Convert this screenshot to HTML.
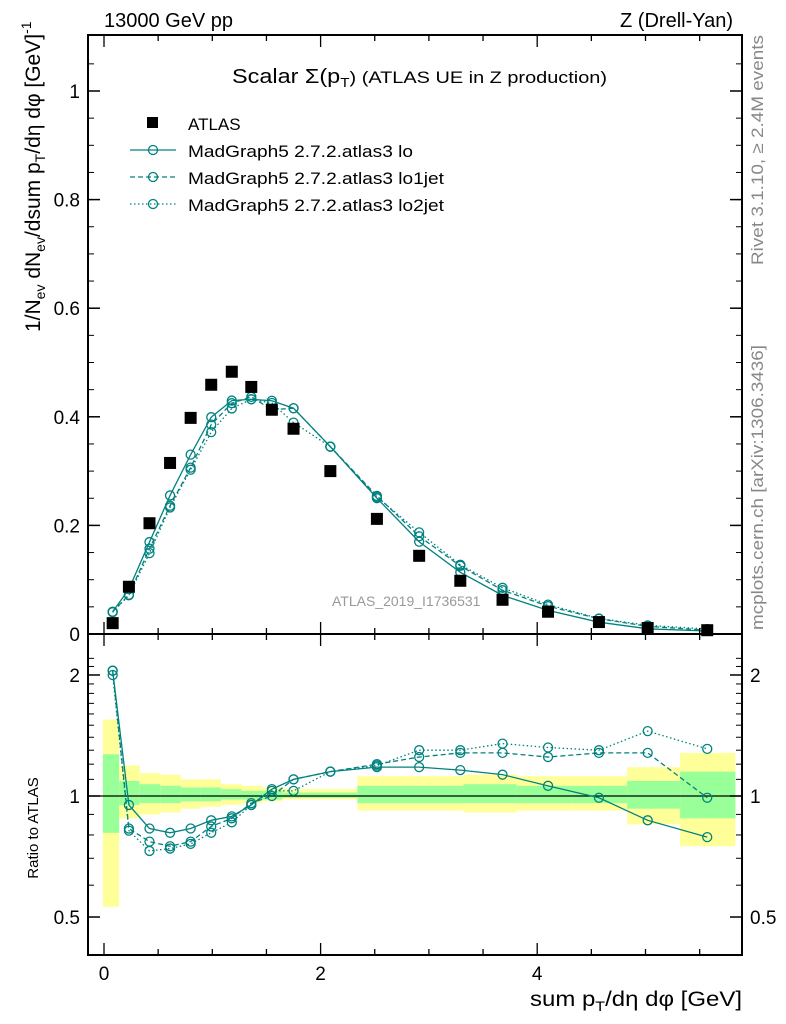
<!DOCTYPE html>
<html><head><meta charset="utf-8"><style>
body{margin:0;background:#fff;width:786px;height:1024px;overflow:hidden;font-family:"Liberation Sans",sans-serif}
svg{display:block}
</style></head><body>
<svg id="c" width="786" height="1024" xmlns="http://www.w3.org/2000/svg" font-family="Liberation Sans, sans-serif">
<text x="104" y="27" font-size="20">13000 GeV pp</text>
<text x="733" y="27" font-size="20" text-anchor="end">Z (Drell-Yan)</text>
<text x="232" y="83" font-size="20" textLength="375" lengthAdjust="spacingAndGlyphs">Scalar Σ(p<tspan font-size="13" dy="4">T</tspan><tspan dy="-4" font-size="17">) (ATLAS UE in Z production)</tspan></text>
<text x="332" y="606" font-size="14" fill="#999">ATLAS_2019_I1736531</text>
<text transform="translate(763,265) rotate(-90)" font-size="17" fill="#888" textLength="230" lengthAdjust="spacingAndGlyphs">Rivet 3.1.10, ≥ 2.4M events</text>
<text transform="translate(763,630) rotate(-90)" font-size="17" fill="#888" textLength="285" lengthAdjust="spacingAndGlyphs">mcplots.cern.ch [arXiv:1306.3436]</text>
<text transform="translate(40,332) rotate(-90)" font-size="21">1/N<tspan font-size="14" dy="5">ev</tspan><tspan dy="-5"> dN</tspan><tspan font-size="14" dy="5">ev</tspan><tspan dy="-5">/dsum p</tspan><tspan font-size="14" dy="5">T</tspan><tspan dy="-5">/dη dφ  [GeV]</tspan><tspan font-size="14" dy="-9">-1</tspan></text>
<text transform="translate(38,828) rotate(-90)" font-size="15" text-anchor="middle">Ratio to ATLAS</text>
<text x="530" y="1006" font-size="21" textLength="212" lengthAdjust="spacingAndGlyphs">sum p<tspan font-size="14" dy="5">T</tspan><tspan dy="-5">/dη dφ [GeV]</tspan></text>
<g id="legend">
<rect x="147" y="117" width="11" height="11" fill="#000"/>
<text x="188" y="130" font-size="17">ATLAS</text>
<line x1="130" y1="150" x2="176" y2="150" stroke="#00827f" stroke-width="1.3"/><circle cx="153" cy="150" r="4.5" fill="none" stroke="#00827f" stroke-width="1.3"/>
<text x="188" y="157" font-size="17" textLength="225" lengthAdjust="spacingAndGlyphs">MadGraph5 2.7.2.atlas3 lo</text>
<line x1="130" y1="177" x2="176" y2="177" stroke="#00827f" stroke-width="1.3" stroke-dasharray="5,3"/><circle cx="153" cy="177" r="4.5" fill="none" stroke="#00827f" stroke-width="1.3"/>
<text x="188" y="184" font-size="17" textLength="256" lengthAdjust="spacingAndGlyphs">MadGraph5 2.7.2.atlas3 lo1jet</text>
<line x1="130" y1="204" x2="176" y2="204" stroke="#00827f" stroke-width="1.3" stroke-dasharray="1.5,2.5"/><circle cx="153" cy="204" r="4.5" fill="none" stroke="#00827f" stroke-width="1.3"/>
<text x="188" y="211" font-size="17" textLength="256" lengthAdjust="spacingAndGlyphs">MadGraph5 2.7.2.atlas3 lo2jet</text>
</g>
<g id="bands"></g><g id="marks"></g><g id="axes"></g>
</svg>
<script>
const xCenters=[0.08,0.23,0.42,0.61,0.8,0.99,1.18,1.36,1.55,1.75,2.09,2.52,2.91,3.29,3.68,4.1,4.57,5.02,5.57];
const binEdges=[-0.01,0.14,0.33,0.52,0.71,0.89,1.08,1.27,1.46,1.65,1.84,2.34,2.83,3.32,3.81,4.32,4.83,5.32,5.83];
const atlasValues=[0.020,0.087,0.204,0.315,0.398,0.459,0.483,0.455,0.413,0.378,0.300,0.212,0.144,0.098,0.063,0.041,0.022,0.011,0.007];
const ratioLo=[2.05,0.95,0.83,0.81,0.83,0.87,0.89,0.95,1.04,1.10,1.15,1.18,1.18,1.16,1.13,1.06,0.99,0.87,0.79];
const ratioLo1jet=[2.05,0.83,0.77,0.75,0.77,0.84,0.88,0.96,1.0,1.10,1.15,1.20,1.25,1.28,1.28,1.25,1.28,1.28,0.99];
const ratioLo2jet=[2.0,0.82,0.73,0.74,0.76,0.81,0.86,0.95,1.03,1.03,1.15,1.19,1.30,1.30,1.35,1.32,1.30,1.45,1.31];
const yellowLo=[0.53,0.88,0.90,0.91,0.93,0.94,0.95,0.96,0.97,0.98,0.98,0.92,0.92,0.91,0.92,0.92,0.85,0.75,0.83];
const yellowHi=[1.55,1.19,1.14,1.13,1.10,1.10,1.07,1.06,1.05,1.04,1.04,1.12,1.12,1.13,1.12,1.12,1.18,1.28,1.24];
const greenLo=[0.81,0.95,0.96,0.96,0.97,0.97,0.98,0.98,0.98,0.99,0.99,0.96,0.96,0.96,0.96,0.96,0.93,0.88,0.93];
const greenHi=[1.27,1.09,1.07,1.06,1.05,1.05,1.04,1.03,1.03,1.02,1.02,1.06,1.06,1.07,1.06,1.06,1.09,1.15,1.12];
const mainTicks=[0,0.2,0.4,0.6,0.8,1];
const mainTickLabels=["0","0.2","0.4","0.6","0.8","1"];
const xTicks=[0,2,4];
const ratioTicks=[0.5,1,2];

const L=88,R=742,T=35,MB=634,RB=955;
const X=v=>104+v*108.3;
const YM=v=>634-v*543;
const YR=v=>796-402*Math.log10(v);
const NS="http://www.w3.org/2000/svg";
function mk(p,t,a){const e=document.createElementNS(NS,t);for(const k in a)e.setAttribute(k,a[k]);p.appendChild(e);return e;}
const bands=document.getElementById('bands'),marks=document.getElementById('marks'),axes=document.getElementById('axes');
for(let i=0;i<xCenters.length;i++){
 const x0=X(binEdges[i]),x1=X(binEdges[i+1]);
 let r=mk(bands,'rect',{x:x0,y:YR(yellowHi[i]),width:x1-x0,height:YR(yellowLo[i])-YR(yellowHi[i]),fill:'#ffff99'});
 
 
 r=mk(bands,'rect',{x:x0,y:YR(greenHi[i]),width:x1-x0,height:YR(greenLo[i])-YR(greenHi[i]),fill:'#99ff99'});
 
 
}
let ln=mk(marks,'line',{x1:L,x2:R,y1:YR(1),y2:YR(1),stroke:'#000','stroke-width':1.3});


const series=[[ratioLo,'none','lo'],[ratioLo1jet,'5,3','lo1jet'],[ratioLo2jet,'1.5,2.5','lo2jet']];
series.forEach(([rat,dash,nm])=>{
 const mp=xCenters.map((x,i)=>X(x)+','+YM(rat[i]*atlasValues[i])).join(' ');
 let p=mk(marks,'polyline',{points:mp,fill:'none',stroke:'#00827f','stroke-width':1.3,'stroke-dasharray':dash});
 
 
 const rp=xCenters.map((x,i)=>X(x)+','+YR(rat[i])).join(' ');
 p=mk(marks,'polyline',{points:rp,fill:'none',stroke:'#00827f','stroke-width':1.3,'stroke-dasharray':dash});
 
 
 xCenters.forEach((x,i)=>{
  let c=mk(marks,'circle',{cx:X(x),cy:YM(rat[i]*atlasValues[i]),r:4.5,fill:'none',stroke:'#00827f','stroke-width':1.3});
  
  
  c=mk(marks,'circle',{cx:X(x),cy:YR(rat[i]),r:4.5,fill:'none',stroke:'#00827f','stroke-width':1.3});
  
  
 });
});
xCenters.forEach((x,i)=>{
 const r=mk(marks,'rect',{x:X(x)-6,y:YM(atlasValues[i])-6,width:12,height:12,fill:'#000'});
 
 
});
[[T,MB],[MB,RB]].forEach(([a,b])=>{
 const f=mk(axes,'rect',{x:L,y:a,width:R-L,height:b-a,fill:'none',stroke:'#000','stroke-width':2});
 
 
});
mainTicks.forEach((v,i)=>{
 mk(axes,'line',{x1:L,x2:L+12,y1:YM(v),y2:YM(v),stroke:'#000','stroke-width':1.5});
 mk(axes,'line',{x1:R,x2:R-12,y1:YM(v),y2:YM(v),stroke:'#000','stroke-width':1.5});
 const t=mk(axes,'text',{x:L-8,y:YM(v)+7,'font-size':19,'text-anchor':'end'});t.textContent=mainTickLabels[i];
 
 
});
for(let v=0.05;v<1.1;v+=0.05){const y=YM(v);if(y<T)break;mk(axes,'line',{x1:L,x2:L+6,y1:y,y2:y,stroke:'#000'});mk(axes,'line',{x1:R,x2:R-6,y1:y,y2:y,stroke:'#000'});}
for(let v=0;v<=6;v+=0.5){const x=X(v);if(x>R)break;const big=v%2===0;
 [MB,RB].forEach(b=>mk(axes,'line',{x1:x,x2:x,y1:b,y2:b-(big?12:6),stroke:'#000','stroke-width':1.3}));
 [T,MB].forEach(b=>mk(axes,'line',{x1:x,x2:x,y1:b,y2:b+(big?12:6),stroke:'#000','stroke-width':1.3}));}
xTicks.forEach(v=>{const t=mk(axes,'text',{x:X(v),y:980,'font-size':19,'text-anchor':'middle'});t.textContent=v;
 
 });
ratioTicks.forEach(v=>{
 mk(axes,'line',{x1:L,x2:L+12,y1:YR(v),y2:YR(v),stroke:'#000','stroke-width':1.5});
 mk(axes,'line',{x1:R,x2:R-12,y1:YR(v),y2:YR(v),stroke:'#000','stroke-width':1.5});
 let t=mk(axes,'text',{x:L-8,y:YR(v)+7,'font-size':19,'text-anchor':'end'});t.textContent=v;
 
 
 t=mk(axes,'text',{x:R+8,y:YR(v)+7,'font-size':19});t.textContent=v;
 
 
});
[0.6,0.7,0.8,0.9,1.1,1.2,1.3,1.4,1.5,1.6,1.7,1.8,1.9,2.1,2.2].forEach(v=>{const y=YR(v);
 mk(axes,'line',{x1:L,x2:L+6,y1:y,y2:y,stroke:'#000'});mk(axes,'line',{x1:R,x2:R-6,y1:y,y2:y,stroke:'#000'});});
</script>
</body></html>
